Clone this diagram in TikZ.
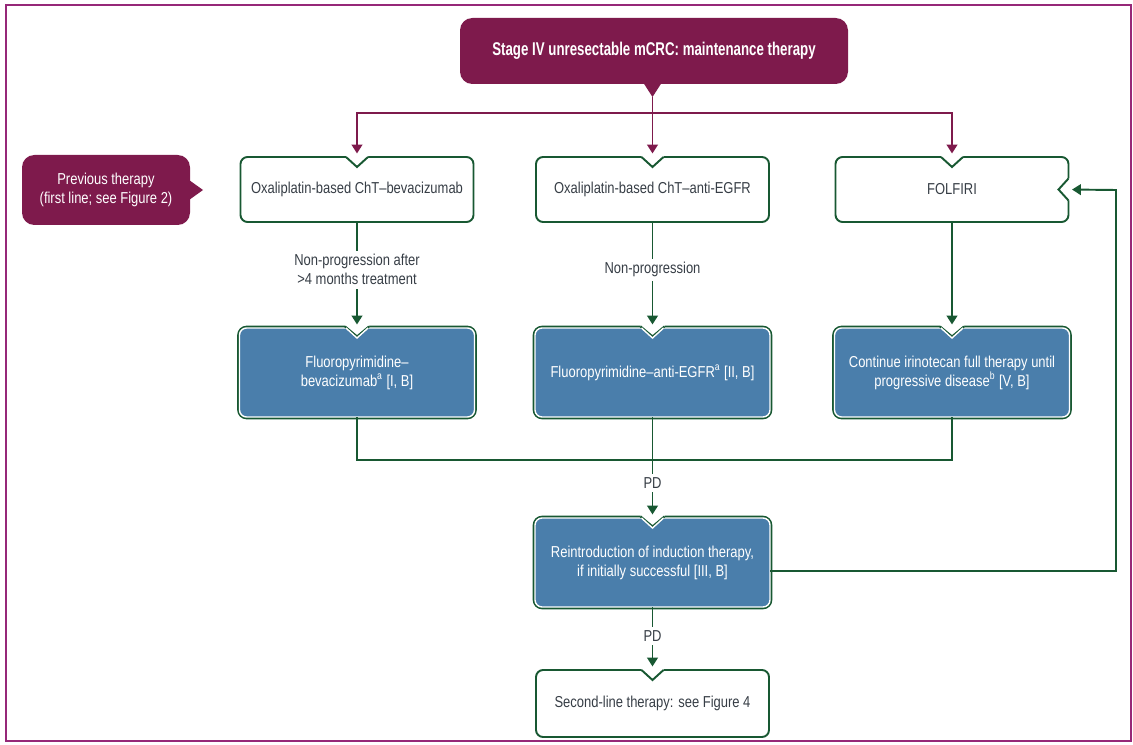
\documentclass[tikz,border=0pt]{standalone}
\usepackage{fontspec}
\setmainfont[FakeStretch=0.82]{Liberation Sans}
\newfontfamily\headfont[FakeStretch=0.72]{Liberation Sans}
\usetikzlibrary{arrows.meta, positioning, calc}
\definecolor{cMaroon}{RGB}{126, 26, 76}
\definecolor{cFrame}{RGB}{150, 40, 120}
\definecolor{bGreen}{RGB}{24, 88, 50}
\definecolor{cBlue}{RGB}{74, 126, 171}
\definecolor{tGray}{RGB}{55, 62, 70}

\begin{document}
\begin{tikzpicture}[
    font=\fontsize{9}{10.8}\selectfont,
    >={Triangle[width=6pt,length=5pt]},
    whitebox/.style={
        draw=bGreen,
        line width=1.1pt,
        fill=white,
        rounded corners=4pt,
        outer sep=0pt,
        inner xsep=2pt,
        minimum width=4.66cm,
        minimum height=1.3cm,
        align=center,
        text=tGray
    },
    bluebox/.style={
        fill=cBlue,
        draw=white,
        line width=0.8pt,
        preaction={draw=bGreen, line width=2.6pt},
        rounded corners=4pt,
        outer sep=0pt,
        inner xsep=2pt,
        minimum width=4.7cm,
        minimum height=1.78cm,
        align=center,
        text=white
    },
    darkbox/.style={fill=cMaroon, rounded corners=7pt, outer sep=0pt, align=center, text=white},
    link/.style={line width=1.1pt, draw=bGreen},
    arrow/.style={link, ->, shorten >=2pt},
    redarrow/.style={->, line width=1.1pt, draw=cMaroon, shorten >=2pt},
    lbl/.style={fill=white, text=tGray, align=center, inner sep=2pt}
]

\useasboundingbox (0,0) rectangle (22.66,-14.9);
\draw[cFrame, line width=1.3pt] (0.12,-0.1) rectangle (22.62,-14.82);

% Header
\node[darkbox, minimum width=7.76cm, minimum height=1.32cm,
      font=\headfont\bfseries\fontsize{10.5}{12}\selectfont] (title) at (13.08,-1.02)
    {Stage IV unresectable mCRC: maintenance therapy};
\coordinate (ttip) at (13.05,-1.94);
\fill[cMaroon] ($(title.south -| ttip)+(-0.18,0.02)$) -- (ttip) -- ($(title.south -| ttip)+(0.18,0.02)$) -- cycle;

\node[darkbox, minimum width=3.36cm, minimum height=1.4cm] (prev) at (2.12,-3.8)
    {Previous therapy\\(first line; see Figure 2)};
\fill[cMaroon] ($(prev.east)+(-0.02,0.2)$) -- ($(prev.east)+(0.26,0)$) -- ($(prev.east)+(-0.02,-0.2)$) -- cycle;

% First-line regimens
\node[whitebox] (ox1) at (7.14,-3.79) {Oxaliplatin-based ChT–bevacizumab};
\node[whitebox] (ox2) at (13.05,-3.79) {Oxaliplatin-based ChT–anti-EGFR};
\node[whitebox] (ox3) at (19.04,-3.79) {FOLFIRI};

% Maintenance
\node[bluebox] (fl1) at (7.14,-7.45) {Fluoropyrimidine–\\bevacizumab\textsuperscript{a} [I, B]};
\node[bluebox] (fl2) at (13.05,-7.45) {Fluoropyrimidine–anti-EGFR\textsuperscript{a} [II, B]};
\node[bluebox] (fl3) at (19.04,-7.45) {Continue irinotecan full therapy until\\progressive disease\textsuperscript{b} [V, B]};

% After progression
\node[bluebox] (re) at (13.05,-11.25) {Reintroduction of induction therapy,\\if initially successful [III, B]};
\node[whitebox, minimum height=1.34cm] (sl) at (13.05,-14.07) {Second-line therapy: see Figure 4};

% Notches
\foreach \n in {ox1, ox2, ox3, sl} {
    \fill[white] ($(\n.north)+(-0.22,0.06)$) -- ($(\n.north)+(0.22,0.06)$) -- ($(\n.north)+(0.22,0)$)
        -- ($(\n.north)+(0,-0.2)$) -- ($(\n.north)+(-0.22,0)$) -- cycle;
    \draw[link] ($(\n.north)+(-0.22,0)$) -- ($(\n.north)+(0,-0.2)$) -- ($(\n.north)+(0.22,0)$);
}
\foreach \n in {fl1, fl2, fl3, re} {
    \fill[white] ($(\n.north)+(-0.24,0.08)$) -- ($(\n.north)+(0.24,0.08)$) -- ($(\n.north)+(0.24,0)$)
        -- ($(\n.north)+(0,-0.2)$) -- ($(\n.north)+(-0.24,0)$) -- cycle;
    \draw[bGreen, line width=1.2pt] ($(\n.north)+(-0.24,0.03)$) -- ($(\n.north)+(0,-0.17)$) -- ($(\n.north)+(0.24,0.03)$);
    \draw[white, line width=0.8pt] ($(\n.north)+(-0.22,0)$) -- ($(\n.north)+(0,-0.2)$) -- ($(\n.north)+(0.22,0)$);
}
\fill[white] ($(ox3.east)+(0.06,0.22)$) -- ($(ox3.east)+(0.06,-0.22)$) -- ($(ox3.east)+(0,-0.22)$)
    -- ($(ox3.east)+(-0.2,0)$) -- ($(ox3.east)+(0,0.22)$) -- cycle;
\draw[link] ($(ox3.east)+(0,0.22)$) -- ($(ox3.east)+(-0.2,0)$) -- ($(ox3.east)+(0,-0.22)$);

% Connectors
\coordinate (split) at (13.05,-2.26);
\draw[cMaroon, line width=1.1pt] (ttip) -- (split);
\draw[redarrow] (split) -| (ox1.north);
\draw[redarrow] (split) -- (ox2.north);
\draw[redarrow] (split) -| (ox3.north);

\draw[arrow] (ox1) -- node[lbl, pos=0.45] {Non-progression after\\>4 months treatment} (fl1);
\draw[arrow] (ox2) -- node[lbl, pos=0.45] {Non-progression} (fl2);
\draw[arrow] (ox3) -- (fl3);

\coordinate (join) at (13.05,-9.2);
\draw[link] (fl1) |- (join);
\draw[link] (fl3) |- (join);
\draw[arrow] (fl2) -- node[lbl, pos=0.65] {PD} (re);
\draw[arrow] (re) -- node[lbl, pos=0.46] {PD} (sl);

\coordinate (back) at (22.32,-3.8);
\draw[arrow] ($(re.east)+(0,-0.17)$) -| (back) -- (ox3.east);

\end{tikzpicture}
\end{document}
